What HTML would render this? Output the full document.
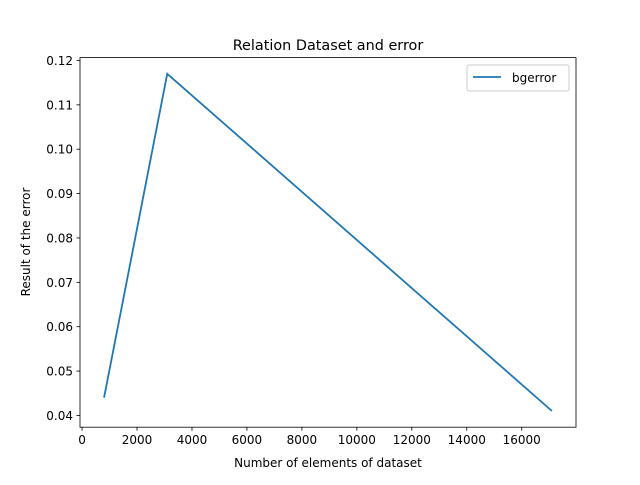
<!DOCTYPE html>
<html><head><meta charset="utf-8"><style>
body{margin:0;background:#fff;}
svg text{font-family:"DejaVu Sans","Liberation Sans",sans-serif;fill:#000;}
</style></head><body>
<svg id="chart" width="640" height="480" xmlns="http://www.w3.org/2000/svg">
<rect width="640" height="480" fill="#fff"/>
<text x="328" y="50" font-size="14.4" text-anchor="middle">Relation Dataset and error</text>
<g id="ticks"></g>
<path id="line" fill="none" stroke="#1f77b4" stroke-width="1.8"/>
<rect x="80" y="57.6" width="496" height="369.6" fill="none" stroke="#000" stroke-width="0.8"/>
<text x="328" y="467" font-size="12" text-anchor="middle">Number of elements of dataset</text>
<text transform="translate(30,242) rotate(-90)" font-size="12" text-anchor="middle">Result of the error</text>
<g>
<rect x="467" y="65" width="102" height="26" rx="2" fill="#fff" stroke="#ccc"/>
<line x1="473" y1="77" x2="501" y2="77" stroke="#1f77b4" stroke-width="1.8"/>
<text x="512" y="82" font-size="12">bgerror</text>
</g>
</svg>
<script>
const xValues=[800,3100,17100];
const yValues=[0.044,0.117,0.041];
const xTicks=[0,2000,4000,6000,8000,10000,12000,14000,16000];
const yTicks=[0.04,0.05,0.06,0.07,0.08,0.09,0.10,0.11,0.12];
const yTickLabels=["0.04","0.05","0.06","0.07","0.08","0.09","0.10","0.11","0.12"];
const X0=80,X1=576,Y0=427.2,Y1=57.6;
const xmin=-75,xmax=17975,ymin=0.03735,ymax=0.12065;
function sx(v){return X0+(v-xmin)/(xmax-xmin)*(X1-X0);}
function sy(v){return Y0-(v-ymin)/(ymax-ymin)*(Y0-Y1);}
const ns="http://www.w3.org/2000/svg";
const g=document.getElementById('ticks');
xTicks.forEach(t=>{
 const l=document.createElementNS(ns,'line');
 l.setAttribute('x1',sx(t));l.setAttribute('x2',sx(t));l.setAttribute('y1',Y0);l.setAttribute('y2',Y0+3.5);l.setAttribute('stroke','#000');l.setAttribute('stroke-width','0.8');
 
 
 g.appendChild(l);
 const tx=document.createElementNS(ns,'text');
 tx.setAttribute('x',sx(t));tx.setAttribute('y',Y0+17);tx.setAttribute('font-size','12');tx.setAttribute('text-anchor','middle');tx.textContent=t;
 
 
 g.appendChild(tx);
});
yTicks.forEach((t,i)=>{
 const l=document.createElementNS(ns,'line');
 l.setAttribute('x1',X0-3.5);l.setAttribute('x2',X0);l.setAttribute('y1',sy(t));l.setAttribute('y2',sy(t));l.setAttribute('stroke','#000');l.setAttribute('stroke-width','0.8');
 
 
 g.appendChild(l);
 const tx=document.createElementNS(ns,'text');
 tx.setAttribute('x',X0-7);tx.setAttribute('y',sy(t)+4.5);tx.setAttribute('font-size','12');tx.setAttribute('text-anchor','end');tx.textContent=yTickLabels[i];
 
 
 g.appendChild(tx);
});
document.getElementById('line').setAttribute('d',xValues.map((x,i)=>(i?'L':'M')+sx(x)+','+sy(yValues[i])).join(' '));
</script>
</body></html>
